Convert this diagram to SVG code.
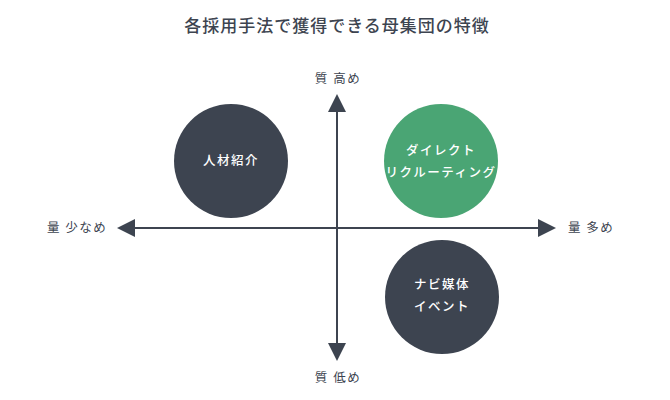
<svg xmlns="http://www.w3.org/2000/svg" width="670" height="400" viewBox="0 0 670 400">
<style>
text{font-family:"Noto Sans CJK JP","Noto Sans",sans-serif;}
.title{font-size:17px;font-weight:500;fill:#3d4450;letter-spacing:1px;}
.lbl{font-size:12.5px;fill:#3d4450;letter-spacing:1.5px;}
.in{font-size:12.5px;fill:#ffffff;font-weight:500;letter-spacing:1.5px;}
.dark{fill:#3d4450;}
.green{fill:#4aa574;}
.axis{stroke:#3d4450;stroke-width:2;}
</style>
<rect width="670" height="400" fill="#ffffff"/>
<text class="title" x="337" y="32" text-anchor="middle">各採用手法で獲得できる母集団の特徴</text>
<g id="connectors">
<line class="axis" x1="337" y1="110" x2="337" y2="345"/>
<polygon class="dark" points="337,94 346,112 328,112"/>
<polygon class="dark" points="337,361 346,343 328,343"/>
<line class="axis" x1="133" y1="228" x2="540" y2="228"/>
<polygon class="dark" points="117,228 135,219 135,237"/>
<polygon class="dark" points="556,228 538,219 538,237"/>
</g>
<g id="label-top"><text class="lbl" x="338" y="83" text-anchor="middle">質 高め</text></g>
<g id="label-bottom"><text class="lbl" x="338" y="382" text-anchor="middle">質 低め</text></g>
<g id="label-left"><text class="lbl" x="47" y="232">量 少なめ</text></g>
<g id="label-right"><text class="lbl" x="568" y="232">量 多め</text></g>
<g id="node-jinzai">
<circle class="dark" cx="231" cy="161" r="57"/>
<text class="in" x="231" y="165" text-anchor="middle">人材紹介</text>
</g>
<g id="node-direct">
<circle class="green" cx="441" cy="161" r="57"/>
<text class="in" x="441" y="155" text-anchor="middle">ダイレクト</text>
<text class="in" x="441" y="177" text-anchor="middle">リクルーティング</text>
</g>
<g id="node-navi">
<circle class="dark" cx="442" cy="297" r="57"/>
<text class="in" x="442" y="289" text-anchor="middle">ナビ媒体</text>
<text class="in" x="442" y="311" text-anchor="middle">イベント</text>
</g>
</svg>
